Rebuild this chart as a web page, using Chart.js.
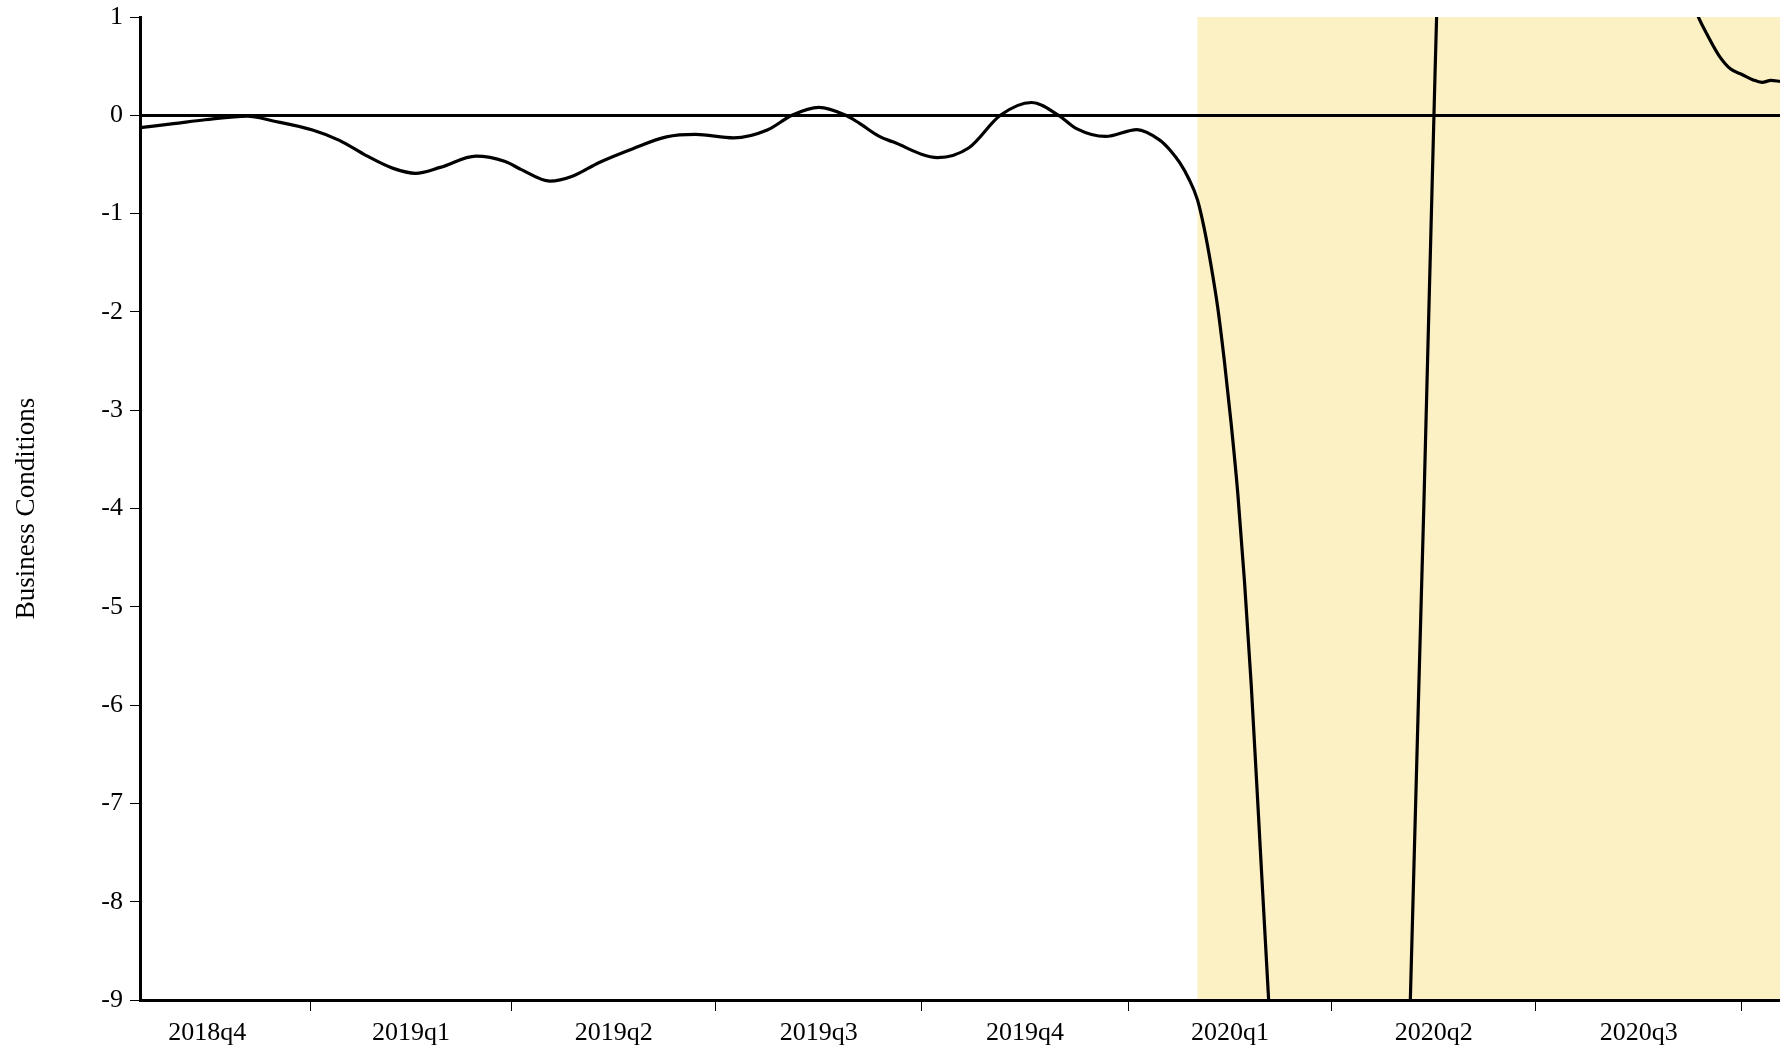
<!DOCTYPE html>
<html>
<head>
<meta charset="utf-8">
<title>Business Conditions</title>
<script src="https://cdn.jsdelivr.net/npm/chart.js@4.4.1/dist/chart.umd.min.js"></script>
<style>
  html, body { margin: 0; padding: 0; background: #ffffff; }
  #wrap { width: 1780px; height: 1050px; }
</style>
</head>
<body>
<div id="wrap"><canvas id="chart" width="1780" height="1050"></canvas></div>
<script>
// Daily business conditions index, sampled observations
const dates = [
  '2018-10-17','2018-11-01','2018-11-15','2018-12-04','2018-12-15',
  '2019-01-02','2019-01-14','2019-01-26','2019-02-07','2019-02-17','2019-02-28',
  '2019-03-16','2019-03-29','2019-04-05','2019-04-18','2019-04-28','2019-05-10',
  '2019-05-25','2019-06-09','2019-06-22','2019-07-09','2019-07-24','2019-08-04',
  '2019-08-16','2019-08-28','2019-09-03','2019-09-12','2019-09-18','2019-10-08',
  '2019-10-22','2019-11-05','2019-11-19','2019-12-01','2019-12-09','2019-12-22',
  '2020-01-05','2020-01-15','2020-01-20','2020-01-24','2020-01-28','2020-02-01',
  '2020-02-04','2020-02-07','2020-02-10','2020-02-13','2020-02-16','2020-02-19',
  '2020-02-22','2020-02-25','2020-02-29','2020-03-04','2020-03-10','2020-03-18',
  '2020-03-28','2020-04-07','2020-04-15','2020-04-22','2020-04-28','2020-05-02',
  '2020-05-06','2020-05-12','2020-05-17','2020-05-22','2020-05-29','2020-06-09',
  '2020-06-21','2020-07-04','2020-07-22','2020-08-11','2020-08-26','2020-09-04',
  '2020-09-11','2020-09-16','2020-09-21','2020-09-26','2020-10-01','2020-10-06',
  '2020-10-10','2020-10-14','2020-10-18'
];
const values = [
  -0.125, -0.085, -0.045, -0.008, -0.055,
  -0.15, -0.255, -0.41, -0.54, -0.59, -0.53,
  -0.415, -0.47, -0.55, -0.67, -0.62, -0.48,
  -0.34, -0.22, -0.195, -0.23, -0.15, 0.0,
  0.08, 0.0, -0.08, -0.215, -0.27, -0.43,
  -0.33, 0.0, 0.13, 0.0, -0.135, -0.215,
  -0.145, -0.25, -0.36, -0.48, -0.64, -0.86,
  -1.15, -1.52, -1.95, -2.5, -3.13, -3.85,
  -4.75, -5.8, -7.45, -9.1, -11.5, -15.0,
  -19.5, -23.0, -24.2, -22.0, -17.0, -13.0,
  -9.0, -4.0, 0.4, 4.2, 7.3, 9.3,
  9.6, 8.4, 5.8, 3.4, 2.1, 1.5,
  1.03, 0.8, 0.6, 0.47, 0.415, 0.36,
  0.335, 0.355, 0.345
];

// Quarter boundaries on the time axis and the quarter names centred between them
const quarterStarts = [
  '2018-10-01','2019-01-01','2019-04-01','2019-07-01','2019-10-01',
  '2020-01-01','2020-04-01','2020-07-01','2020-10-01'
];
const quarterLabels = ['2018q4','2019q1','2019q2','2019q3','2019q4','2020q1','2020q2','2020q3'];

// Shaded recession period
const recessionStart = '2020-02-01';

const yTicks = [1, 0, -1, -2, -3, -4, -5, -6, -7, -8, -9];

const dayOf = s => {
  const [y, m, d] = s.split('-').map(Number);
  return Date.UTC(y, m - 1, d) / 86400000;
};

const points = dates.map((d, i) => ({ x: dayOf(d), y: values[i] }));
const xMin = dayOf(dates[0]);
const xMax = dayOf(dates[dates.length - 1]);

const boundaryDays = quarterStarts.map(dayOf);
const labelAt = new Map();
quarterLabels.forEach((lab, i) => {
  labelAt.set((boundaryDays[i] + boundaryDays[i + 1]) / 2, lab);
});
const boundarySet = new Set(boundaryDays);
const xTickValues = [...boundaryDays, ...labelAt.keys()]
  .filter(v => v >= xMin && v <= xMax)
  .sort((a, b) => a - b);

const FONT = 'Liberation Serif, Times New Roman, serif';

const recessionShade = {
  id: 'recessionShade',
  beforeDraw(chart) {
    const { ctx, chartArea: a, scales: { x } } = chart;
    const x0 = x.getPixelForValue(dayOf(recessionStart));
    ctx.save();
    ctx.fillStyle = 'rgb(252, 241, 196)';
    ctx.fillRect(x0, a.top, a.right - x0, a.bottom - a.top);
    ctx.restore();
  }
};

new Chart(document.getElementById('chart'), {
  type: 'line',
  data: {
    datasets: [{
      data: points,
      borderColor: '#000000',
      borderWidth: 3.2,
      pointRadius: 0,
      cubicInterpolationMode: 'monotone',
      fill: false
    }]
  },
  options: {
    responsive: false,
    animation: false,
    devicePixelRatio: 1,
    layout: { padding: { top: 17, right: 0, bottom: 0, left: 0 } },
    plugins: { legend: { display: false }, tooltip: { enabled: false } },
    scales: {
      x: {
        type: 'linear',
        min: xMin,
        max: xMax,
        afterBuildTicks: s => { s.ticks = xTickValues.map(v => ({ value: v })); },
        afterFit: s => { s.height = 50; s.paddingLeft = 0; s.paddingRight = 0; },
        ticks: {
          autoSkip: false,
          maxRotation: 0,
          minRotation: 0,
          padding: 7,
          color: '#000000',
          font: { family: FONT, size: 26 },
          callback: v => labelAt.get(v) || ''
        },
        grid: {
          drawOnChartArea: false,
          drawTicks: true,
          tickLength: 11,
          tickWidth: 1,
          tickColor: c => (c.tick && boundarySet.has(c.tick.value)) ? '#000000' : 'rgba(0,0,0,0)'
        },
        border: { display: true, color: '#000000', width: 3 }
      },
      y: {
        min: -9,
        max: 1,
        afterBuildTicks: s => { s.ticks = yTicks.map(v => ({ value: v })); },
        afterFit: s => { s.width = 140; s.paddingTop = 0; s.paddingBottom = 0; },
        ticks: {
          padding: 7,
          color: '#000000',
          font: { family: FONT, size: 26 },
          callback: v => String(v)
        },
        title: {
          display: true,
          text: 'Business Conditions',
          color: '#000000',
          font: { family: FONT, size: 27 },
          padding: { top: 11, bottom: 0 }
        },
        grid: {
          drawOnChartArea: true,
          drawTicks: true,
          tickLength: 10,
          tickWidth: 1,
          tickColor: '#000000',
          color: c => (c.tick && c.tick.value === 0) ? '#000000' : 'rgba(0,0,0,0)',
          lineWidth: c => (c.tick && c.tick.value === 0) ? 3 : 1
        },
        border: { display: true, color: '#000000', width: 3 }
      }
    }
  },
  plugins: [recessionShade]
});
</script>
</body>
</html>
